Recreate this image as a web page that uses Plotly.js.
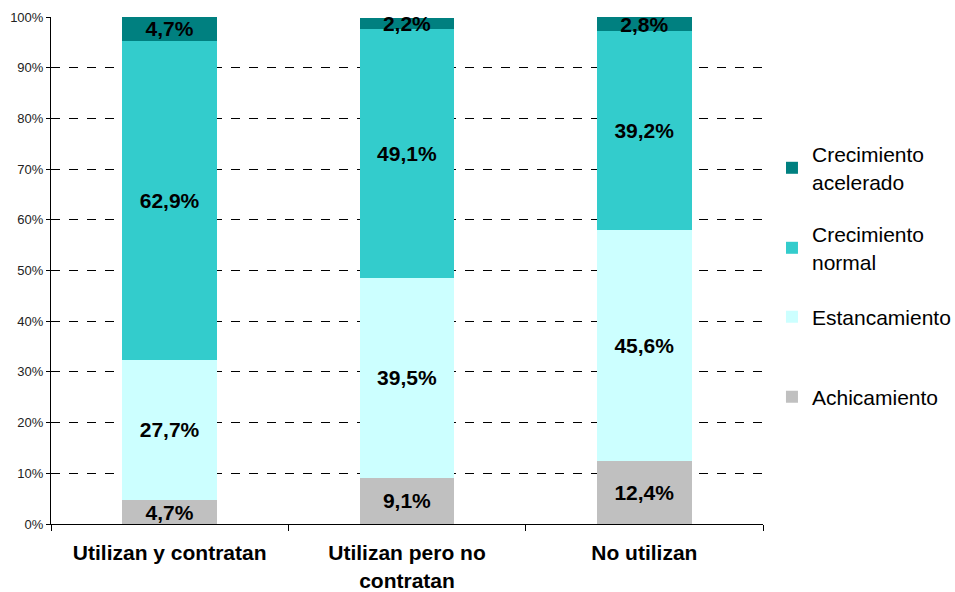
<!DOCTYPE html>
<html>
<head>
<meta charset="utf-8">
<script src="https://cdn.plot.ly/plotly-3.0.1.min.js"></script>
<style>body{margin:0;background:#fff}#chart{width:955px;height:592px}</style>
</head>
<body>
<div id="chart"></div>
<script>
const categories = ["Utilizan y contratan", "Utilizan pero no<br>contratan", "No utilizan"];
const achicamiento = [4.7, 9.1, 12.4];
const estancamiento = [27.7, 39.5, 45.6];
const crecNormal = [62.9, 49.1, 39.2];
const crecAcelerado = [4.7, 2.2, 2.8];
const seriesNames = ["Achicamiento", "Estancamiento", "Crecimiento<br>normal", "Crecimiento<br>acelerado"];
const seriesColors = ["#C0C0C0", "#CCFFFF", "#33CCCC", "#008080"];
const seriesValues = [achicamiento, estancamiento, crecNormal, crecAcelerado];
const yTicks = [0,10,20,30,40,50,60,70,80,90,100];

const FONT = "Arial, 'Liberation Sans', sans-serif";
const legendIds = ['legend4', 'legend3', 'legend2', 'legend'];
const traces = seriesValues.map((vals, i) => ({
  type: 'bar',
  x: categories,
  y: vals,
  name: seriesNames[i],
  legend: legendIds[i],
  marker: {color: seriesColors[i], line: {width: 0}},
  texttemplate: '%{y:.1f}%',
  textposition: 'inside',
  insidetextanchor: 'middle',
  constraintext: 'none',
  textangle: 0,
  textfont: {family: FONT, size: 21, color: '#000', weight: 'bold'},
  hoverinfo: 'none'
}));

const legendBase = (yc) => ({
  x: 1.0126, y: yc, xanchor: 'left', yanchor: 'middle',
  font: {family: FONT, size: 21, color: '#000'},
  itemwidth: 30,
  bgcolor: 'rgba(0,0,0,0)'
});

const layout = {
  width: 955, height: 592,
  margin: {l: 51, r: 192, t: 17, b: 68, autoexpand: false},
  barmode: 'stack',
  bargap: 0.6,
  separators: ',.',
  paper_bgcolor: '#fff',
  plot_bgcolor: '#fff',
  font: {family: FONT, color: '#000'},
  showlegend: true,
  legend: legendBase(0.7022),
  legend2: legendBase(0.5444),
  legend3: legendBase(0.4083),
  legend4: legendBase(0.2505),
  xaxis: {
    type: 'category',
    showline: true, linecolor: '#000', linewidth: 1,
    ticks: 'outside', tickson: 'boundaries', ticklen: 6, tickcolor: '#000',
    tickfont: {family: FONT, size: 21, color: '#000', weight: 'bold'},
    ticklabelstandoff: 10,
    showgrid: false,
    fixedrange: true
  },
  yaxis: {
    range: [0, 100],
    tickvals: yTicks,
    ticktext: yTicks.map(v => v + '%'),
    showline: true, linecolor: '#000', linewidth: 1,
    ticks: 'outside', ticklen: 4, tickcolor: '#000',
    tickfont: {family: FONT, size: 13, color: '#222'},
    showgrid: true, gridcolor: '#000', gridwidth: 1, griddash: 'dash',
    zeroline: false,
    fixedrange: true
  }
};

Plotly.newPlot('chart', traces, layout, {displayModeBar: false, staticPlot: true});
</script>
</body>
</html>
